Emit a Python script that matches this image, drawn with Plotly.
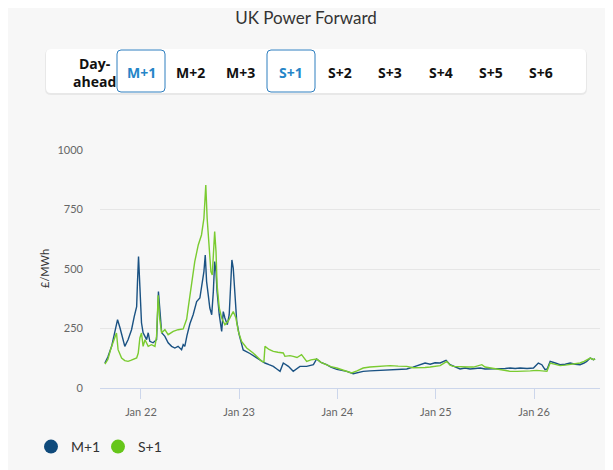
import plotly.graph_objects as go
import pandas as pd

# Данные: M+1 (месяц вперёд)
m1_dates = [
    "2021-08-20", "2021-08-31", "2021-09-14", "2021-09-26", "2021-10-06", "2021-10-15",
    "2021-10-23", "2021-11-02", "2021-11-14", "2021-11-27", "2021-12-07", "2021-12-16",
    "2021-12-19", "2021-12-23", "2021-12-28", "2022-01-03", "2022-01-09", "2022-01-22",
    "2022-01-28", "2022-02-03", "2022-02-15", "2022-02-28", "2022-03-07", "2022-03-19",
    "2022-03-31", "2022-04-12", "2022-04-25", "2022-05-07", "2022-05-19", "2022-06-01",
    "2022-06-07", "2022-06-13", "2022-06-21", "2022-07-02", "2022-07-14", "2022-07-27",
    "2022-08-08", "2022-08-18", "2022-08-23", "2022-08-28", "2022-09-02", "2022-09-08",
    "2022-09-14", "2022-09-21", "2022-09-27", "2022-10-02", "2022-10-07", "2022-10-11",
    "2022-10-19", "2022-10-28", "2022-11-03", "2022-11-09", "2022-11-18", "2022-11-25",
    "2022-12-01", "2022-12-05", "2022-12-10", "2022-12-16", "2022-12-23", "2023-01-01",
    "2023-01-08", "2023-01-16", "2023-02-10", "2023-03-07", "2023-03-26", "2023-04-07",
    "2023-04-22", "2023-05-08", "2023-05-21", "2023-06-02", "2023-06-14", "2023-07-03",
    "2023-07-21", "2023-07-31", "2023-08-15", "2023-09-09", "2023-10-04", "2023-10-16",
    "2023-11-01", "2023-11-22", "2023-12-08", "2023-12-30", "2024-01-15", "2024-02-05",
    "2024-02-29", "2024-03-18", "2024-04-06", "2024-05-01", "2024-05-26", "2024-06-19",
    "2024-07-15", "2024-08-14", "2024-09-15", "2024-10-08", "2024-11-03", "2024-11-22",
    "2024-12-11", "2024-12-29", "2025-01-17", "2025-02-08", "2025-02-23", "2025-03-14",
    "2025-04-01", "2025-04-20", "2025-05-08", "2025-05-27", "2025-06-15", "2025-07-03",
    "2025-07-22", "2025-08-09", "2025-08-28", "2025-09-16", "2025-10-04", "2025-10-23",
    "2025-11-10", "2025-12-06", "2025-12-30", "2026-01-09", "2026-01-17", "2026-01-30",
    "2026-02-11", "2026-02-19", "2026-03-02", "2026-03-21", "2026-04-08", "2026-04-27",
    "2026-05-15", "2026-06-03", "2026-06-21", "2026-07-06", "2026-07-16", "2026-07-29",
    "2026-08-10", "2026-08-16",
]
m1_values = [
    105, 130, 175, 230, 287, 253,
    217, 175, 203, 245, 300, 342,
    442, 552, 426, 274, 232, 203,
    232, 196, 190, 203, 405, 232,
    217, 190, 175, 168, 175, 161,
    182, 175, 220, 270, 308, 363,
    378, 462, 489, 559, 447, 392,
    336, 308, 405, 531, 489, 405,
    308, 238, 321, 294, 266, 308,
    447, 538, 504, 378, 280, 224,
    190, 160, 145, 126, 112, 105,
    98, 91, 80, 70, 105, 91,
    70, 80, 91, 91, 98, 122,
    108, 98, 88, 78, 75, 70,
    60, 64, 70, 72, 73, 76,
    77, 78, 80, 88, 98, 105,
    100, 106, 105, 116, 98, 88,
    80, 84, 80, 82, 84, 80,
    80, 82, 80, 82, 84, 82,
    84, 82, 84, 95, 105, 98,
    77, 80, 112, 105, 98, 100,
    105, 100, 98, 105, 112, 126,
    119, 122,
]

# Данные: S+1 (сезон вперёд)
s1_dates = [
    "2021-08-20", "2021-08-31", "2021-09-11", "2021-09-22", "2021-10-02", "2021-10-08",
    "2021-10-15", "2021-10-21", "2021-11-02", "2021-11-14", "2021-11-24", "2021-12-03",
    "2021-12-16", "2021-12-22", "2021-12-28", "2022-01-03", "2022-01-09", "2022-01-16",
    "2022-01-28", "2022-02-09", "2022-02-22", "2022-02-28", "2022-03-06", "2022-03-12",
    "2022-03-19", "2022-03-31", "2022-04-12", "2022-05-01", "2022-05-19", "2022-06-07",
    "2022-06-13", "2022-06-20", "2022-06-26", "2022-07-08", "2022-07-20", "2022-08-02",
    "2022-08-14", "2022-08-23", "2022-08-30", "2022-09-04", "2022-09-12", "2022-09-18",
    "2022-09-23", "2022-09-27", "2022-10-02", "2022-10-07", "2022-10-11", "2022-10-19",
    "2022-10-28", "2022-11-09", "2022-11-21", "2022-12-04", "2022-12-10", "2022-12-20",
    "2022-12-29", "2023-01-10", "2023-01-29", "2023-02-22", "2023-03-13", "2023-03-26",
    "2023-04-03", "2023-04-07", "2023-04-22", "2023-05-08", "2023-05-25", "2023-06-14",
    "2023-06-20", "2023-07-09", "2023-07-21", "2023-08-04", "2023-08-21", "2023-09-09",
    "2023-09-25", "2023-10-16", "2023-11-01", "2023-11-22", "2023-12-08", "2023-12-30",
    "2024-01-15", "2024-02-05", "2024-02-23", "2024-03-14", "2024-04-06", "2024-05-01",
    "2024-05-26", "2024-06-19", "2024-07-15", "2024-08-14", "2024-09-15", "2024-10-08",
    "2024-11-03", "2024-11-22", "2024-12-11", "2024-12-29", "2025-01-17", "2025-02-11",
    "2025-02-23", "2025-03-07", "2025-03-25", "2025-04-13", "2025-05-01", "2025-05-21",
    "2025-06-07", "2025-06-21", "2025-07-03", "2025-07-22", "2025-08-09", "2025-08-28",
    "2025-09-16", "2025-10-04", "2025-10-30", "2025-11-23", "2025-12-18", "2026-01-11",
    "2026-01-31", "2026-02-18", "2026-03-02", "2026-03-21", "2026-04-08", "2026-04-27",
    "2026-05-15", "2026-06-03", "2026-06-21", "2026-07-06", "2026-07-18", "2026-07-29",
    "2026-08-10", "2026-08-16",
]
s1_values = [
    100, 120, 165, 200, 231, 161,
    140, 126, 115, 112, 116, 119,
    126, 147, 210, 231, 175, 203,
    175, 182, 175, 217, 390, 287,
    232, 245, 224, 238, 245, 248,
    265, 290, 340, 440, 531, 601,
    643, 713, 853, 713, 588, 489,
    475, 546, 657, 573, 433, 336,
    294, 266, 280, 308, 321, 294,
    238, 196, 168, 147, 126, 112,
    110, 175, 162, 154, 150, 147,
    133, 136, 133, 128, 140, 112,
    118, 122, 108, 98, 90, 84,
    78, 70, 63, 72, 84, 88,
    91, 92, 94, 92, 91, 85,
    84, 86, 88, 90, 94, 112,
    96, 91, 89, 88, 88, 88,
    92, 98, 88, 84, 80, 77,
    74, 70, 70, 70, 72, 74,
    72, 70, 105, 98, 94, 96,
    98, 100, 105, 112, 120, 126,
    119, 122,
]

# Кнопки периода над графиком
buttons = ["Day-<br>ahead", "M+1", "M+2", "M+3", "S+1", "S+2", "S+3", "S+4", "S+5", "S+6"]
selected = ["M+1", "S+1"]

series = {
    "M+1": {"dates": m1_dates, "values": m1_values, "color": "#0f4a7b", "line": "#1a5283"},
    "S+1": {"dates": s1_dates, "values": s1_values, "color": "#66c61a", "line": "#7acb30"},
}

W, H = 613, 470
OFF = 8  # страница сдвигает рисунок на 8px (отступ body)
L, R, T, B = 100 - OFF, W - 600 + OFF, 150 - OFF, H - 388 + OFF
BG = "#f7f7f7"


def px_x(x):
    # x в пикселях скриншота -> доля области графика
    return (x - OFF - L) / (W - L - R)


def px_y(y):
    return (H - B - (y - OFF)) / (H - T - B)


def rounded_rect(x0, y0, x1, y1, r):
    # путь прямоугольника со скруглёнными углами
    ax, bx = px_x(x0), px_x(x1)
    ay, by = px_y(y0), px_y(y1)
    rx = r / (W - L - R)
    ry = r / (H - T - B)
    return (
        f"M {ax + rx},{ay} L {bx - rx},{ay} Q {bx},{ay} {bx},{ay - ry} "
        f"L {bx},{by + ry} Q {bx},{by} {bx - rx},{by} "
        f"L {ax + rx},{by} Q {ax},{by} {ax},{by + ry} "
        f"L {ax},{ay - ry} Q {ax},{ay} {ax + rx},{ay} Z"
    )


fig = go.Figure()

for name, props in series.items():
    df = pd.DataFrame({"date": pd.to_datetime(props["dates"]), "value": props["values"]})
    fig.add_trace(
        go.Scatter(
            x=df["date"],
            y=df["value"],
            mode="lines",
            name=name,
            legendgroup=name,
            showlegend=False,
            line=dict(color=props["line"], width=1.4),
        )
    )
    # маркер-кружок для легенды
    fig.add_trace(
        go.Scatter(
            x=[None],
            y=[None],
            mode="markers",
            name=name,
            legendgroup=name,
            marker=dict(color=props["color"], size=14),
        )
    )

# Диапазон оси X: данные + 1% с каждой стороны
all_dates = pd.to_datetime(m1_dates + s1_dates)
span = all_dates.max() - all_dates.min()
x_range = [all_dates.min() - span * 0.01, all_dates.max() + span * 0.01]

shapes = [
    # тень панели кнопок
    dict(type="path", xref="paper", yref="paper", path=rounded_rect(45, 49, 587, 95, 6),
         fillcolor="rgba(0,0,0,0.06)", line=dict(width=0), layer="below"),
    dict(type="path", xref="paper", yref="paper", path=rounded_rect(46, 49, 586, 93, 5),
         fillcolor="white", line=dict(width=0), layer="below"),
]

annotations = []
btn_x = [94, 141, 190, 240, 291, 340, 390, 441, 491, 541]
for label, cx in zip(buttons, btn_x):
    is_sel = label in selected
    if is_sel:
        shapes.append(
            dict(type="path", xref="paper", yref="paper",
                 path=rounded_rect(cx - 24, 50, cx + 24, 92, 4),
                 fillcolor="white", line=dict(color="#2f7fbf", width=1), layer="below")
        )
    annotations.append(
        dict(
            x=px_x(cx), y=px_y(72), xref="paper", yref="paper",
            text=f"<b>{label}</b>", showarrow=False,
            xanchor="center", yanchor="middle",
            font=dict(family="Open Sans", size=14, color="#2585c7" if is_sel else "#111111"),
        )
    )

# Подпись оси Y
annotations.append(
    dict(x=px_x(44), y=px_y(269), xref="paper", yref="paper", text="£/MWh",
         showarrow=False, textangle=-90, xanchor="center", yanchor="middle",
         font=dict(family="Lato", size=11, color="#333333"))
)

fig.update_layout(
    width=W,
    height=H,
    paper_bgcolor=BG,
    plot_bgcolor=BG,
    font=dict(family="Lato", size=11, color="#666666"),
    title=dict(text="UK Power Forward", x=(306 - OFF) / W, xref="container", xanchor="center",
               y=1 - (18 - OFF) / H, yref="container", yanchor="middle",
               font=dict(family="Lato", size=17, color="#333333")),
    margin=dict(l=L, r=R, t=T, b=B, pad=0),
    showlegend=True,
    legend=dict(
        orientation="h",
        x=px_x(31), y=px_y(447), xanchor="left", yanchor="middle",
        entrywidth=22,
        font=dict(family="Lato", size=14, color="#333333"),
        bgcolor="rgba(0,0,0,0)",
        itemclick=False,
    ),
    shapes=shapes,
    annotations=annotations,
)

fig.update_xaxes(
    type="date",
    range=x_range,
    dtick="M12",
    tick0="2022-01-01",
    tickformat="%b %y",
    showgrid=False,
    zeroline=False,
    showline=True,
    linecolor="#ccd6eb",
    linewidth=1,
    ticks="outside",
    ticklen=10,
    tickcolor="#ccd6eb",
    ticklabelstandoff=4,
    tickfont=dict(family="Lato", size=11, color="#666666"),
)
fig.update_yaxes(
    range=[0, 1000],
    dtick=250,
    showgrid=True,
    gridcolor="#e6e6e6",
    zeroline=False,
    showline=False,
    ticks="",
    ticklabelstandoff=16,
    tickfont=dict(family="Lato", size=11, color="#666666"),
)

fig.write_html("out.html")
